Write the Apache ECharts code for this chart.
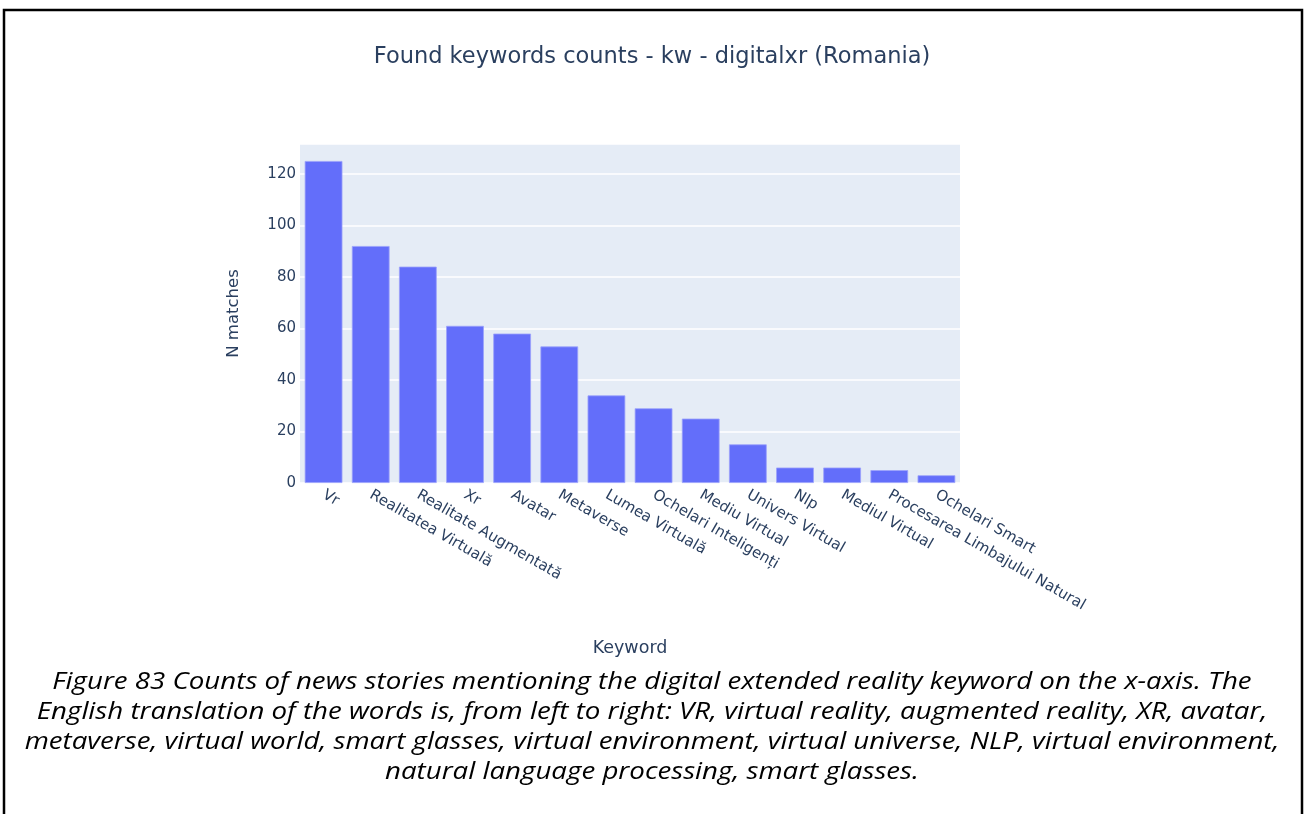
<!DOCTYPE html>
<html>
<head>
<meta charset="utf-8">
<script src="https://cdn.jsdelivr.net/npm/echarts@6/dist/echarts.min.js"></script>
<style>
  html, body { margin: 0; padding: 0; background: #fff; }
  #main { width: 1304px; height: 814px; }
</style>
</head>
<body>
<div id="main"></div>
<script>
// keyword labels, in the order of the bars
var keywords = ['Vr', 'Realitatea Virtuală', 'Realitate Augmentată', 'Xr', 'Avatar', 'Metaverse',
    'Lumea Virtuală', 'Ochelari Inteligenți', 'Mediu Virtual', 'Univers Virtual', 'Nlp',
    'Mediul Virtual', 'Procesarea Limbajului Natural', 'Ochelari Smart'];
var counts = [125, 92, 84, 61, 58, 53, 34, 29, 25, 15, 6, 6, 5, 3];

var chartTitle = 'Found keywords counts - kw - digitalxr (Romania)';
var caption = [
    'Figure 83 Counts of news stories mentioning the digital extended reality keyword on the x-axis. The',
    'English translation of the words is, from left to right: VR, virtual reality, augmented reality, XR, avatar,',
    'metaverse, virtual world, smart glasses, virtual environment, virtual universe, NLP, virtual environment,',
    'natural language processing, smart glasses.'
];

var font = '"DejaVu Sans", Verdana, sans-serif';
var textColor = '#2a3f5f';

var myChart = echarts.init(document.getElementById('main'));

var option = {
    animation: false,
    title: {
        text: chartTitle,
        left: 'center',
        top: 41,
        textStyle: { fontFamily: font, fontSize: 22.5, fontWeight: 'normal', color: textColor }
    },
    graphic: [{
        type: 'rect',
        shape: { x: 4, y: 10, width: 1298, height: 830 },
        style: { fill: 'none', stroke: '#000', lineWidth: 2.5 },
        silent: true
    }, {
        // caption under the figure, a bit wider than the font gives by itself
        type: 'text',
        x: 652, y: 667,
        scaleX: 1.13,
        silent: true,
        style: {
            text: caption.join('\n'),
            align: 'center',
            verticalAlign: 'top',
            font: 'italic 24.5px "Open Sans", sans-serif',
            fill: '#000',
            lineHeight: 30
        }
    }],
    grid: {
        left: 300, right: 344, top: 144, bottom: 331,
        show: true, backgroundColor: '#e5ecf6', borderWidth: 0
    },
    xAxis: {
        type: 'category',
        data: keywords,
        name: 'Keyword',
        nameLocation: 'middle',
        nameGap: 156,
        nameTextStyle: { fontFamily: font, fontSize: 17.5, color: textColor },
        axisLine: { show: false },
        axisTick: { show: false },
        axisLabel: {
            rotate: -30, margin: 11, interval: 0,
            fontFamily: font, fontSize: 15, color: textColor
        }
    },
    yAxis: {
        type: 'value',
        min: 0, max: 131.6, interval: 20,
        name: 'N matches',
        nameLocation: 'middle',
        nameGap: 58,
        nameTextStyle: { fontFamily: font, fontSize: 16.5, color: textColor },
        axisLine: { show: false },
        axisTick: { show: false },
        splitLine: { lineStyle: { color: '#ffffff', width: 1.5 } },
        axisLabel: {
            showMaxLabel: false, margin: 4,
            fontFamily: font, fontSize: 15, color: textColor
        }
    },
    series: [{
        type: 'bar',
        data: counts,
        barCategoryGap: '20%',
        itemStyle: { color: '#636efa', borderColor: '#9aa1fb', borderWidth: 0.8 }
    }]
};

myChart.setOption(option);
</script>
</body>
</html>
